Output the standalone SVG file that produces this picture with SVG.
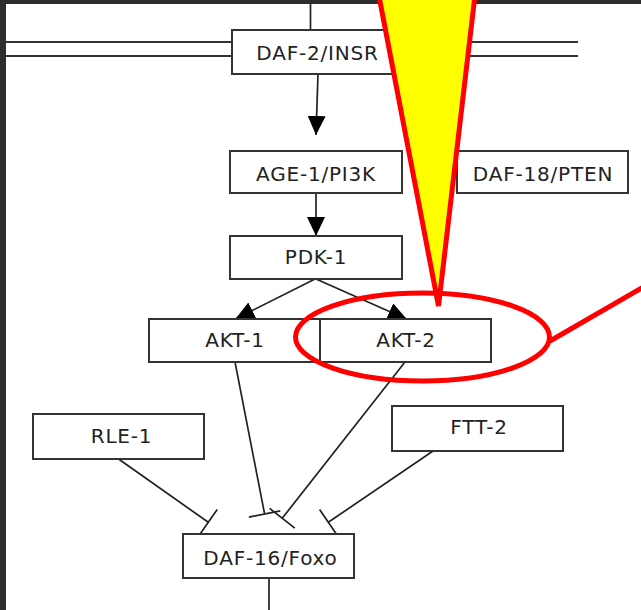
<svg xmlns="http://www.w3.org/2000/svg" width="641" height="610" viewBox="0 0 641 610">
<style>
.box{fill:#fff;stroke:#333;stroke-width:2}
.lbl{font-family:"DejaVu Sans",sans-serif;font-size:20px;fill:#222;text-anchor:middle;letter-spacing:0.8px}
.edge{stroke:#222;stroke-width:1.7;fill:none}
.membrane{stroke:#333;stroke-width:2.2;fill:none}
.red{fill:none;stroke:#ff0000;stroke-width:5}
</style>
<defs>
<marker id="arrow" viewBox="0 0 19 18" markerWidth="19" markerHeight="18" refX="19" refY="9" markerUnits="userSpaceOnUse" orient="auto">
<path d="M0,0 L19,9 L0,18 Z" fill="#000"/>
</marker>
</defs>
<rect x="0" y="0" width="641" height="610" fill="#2d2d2d"/>
<rect x="6" y="4" width="635" height="606" fill="#fff"/>
<g id="membrane">
<path class="membrane" d="M6,42 H232 M6,56 H232 M403,42 H578 M403,56 H578"/>
</g>
<g id="connectors">
<path class="edge" d="M310.5,4 V30"/>
<line class="edge" x1="318" y1="74" x2="316" y2="135" marker-end="url(#arrow)"/>
<line class="edge" x1="316" y1="193" x2="316" y2="236" marker-end="url(#arrow)"/>
<line class="edge" x1="315" y1="279" x2="235.4" y2="319" marker-end="url(#arrow)"/>
<line class="edge" x1="316" y1="279" x2="406.9" y2="319.3" marker-end="url(#arrow)"/>
<path class="edge" d="M118.6,459 L208.3,522.3 M199.4,535 L217.2,509.6"/>
<path class="edge" d="M235,362 L264.6,514 M248.9,517.1 L280.3,510.9"/>
<path class="edge" d="M405,362 L282.2,518.3 M269.6,508.4 L294.8,528.2"/>
<path class="edge" d="M433.4,450.7 L328.3,522.3 M319.6,509.5 L337,535.1"/>
<path class="edge" d="M269,578 V610"/>
</g>
<g id="daf2"><rect class="box" x="232" y="30" width="171" height="44"/><text class="lbl" x="317.5" y="60">DAF-2/INSR</text></g>
<g id="age1"><rect class="box" x="230" y="151" width="172" height="42"/><text class="lbl" x="316" y="181">AGE-1/PI3K</text></g>
<g id="daf18"><rect class="box" x="457" y="151" width="171" height="42"/><text class="lbl" x="543" y="181">DAF-18/PTEN</text></g>
<g id="pdk1"><rect class="box" x="230" y="236" width="172" height="43"/><text class="lbl" x="316" y="264">PDK-1</text></g>
<g id="akt1"><rect class="box" x="149" y="319" width="171" height="43"/><text class="lbl" x="235" y="347">AKT-1</text></g>
<g id="akt2"><rect class="box" x="320" y="319" width="171" height="43"/><text class="lbl" x="406" y="347">AKT-2</text></g>
<g id="rle1"><rect class="box" x="33" y="414" width="171" height="45"/><text class="lbl" x="121.5" y="443">RLE-1</text></g>
<g id="ftt2"><rect class="box" x="392" y="406" width="171" height="45"/><text class="lbl" x="479" y="434">FTT-2</text></g>
<g id="daf16"><rect class="box" x="183" y="534" width="171" height="44"/><text class="lbl" x="270.5" y="565">DAF-16/Foxo</text></g>
<g id="annotation">
<polygon points="377.8,-10 475.6,-10 438.5,306" fill="#ffff00" stroke="#ff0000" stroke-width="5"/>
<ellipse class="red" cx="422.5" cy="337" rx="127" ry="44"/>
<line class="red" x1="550" y1="341" x2="645" y2="286"/>
</g>
</svg>
